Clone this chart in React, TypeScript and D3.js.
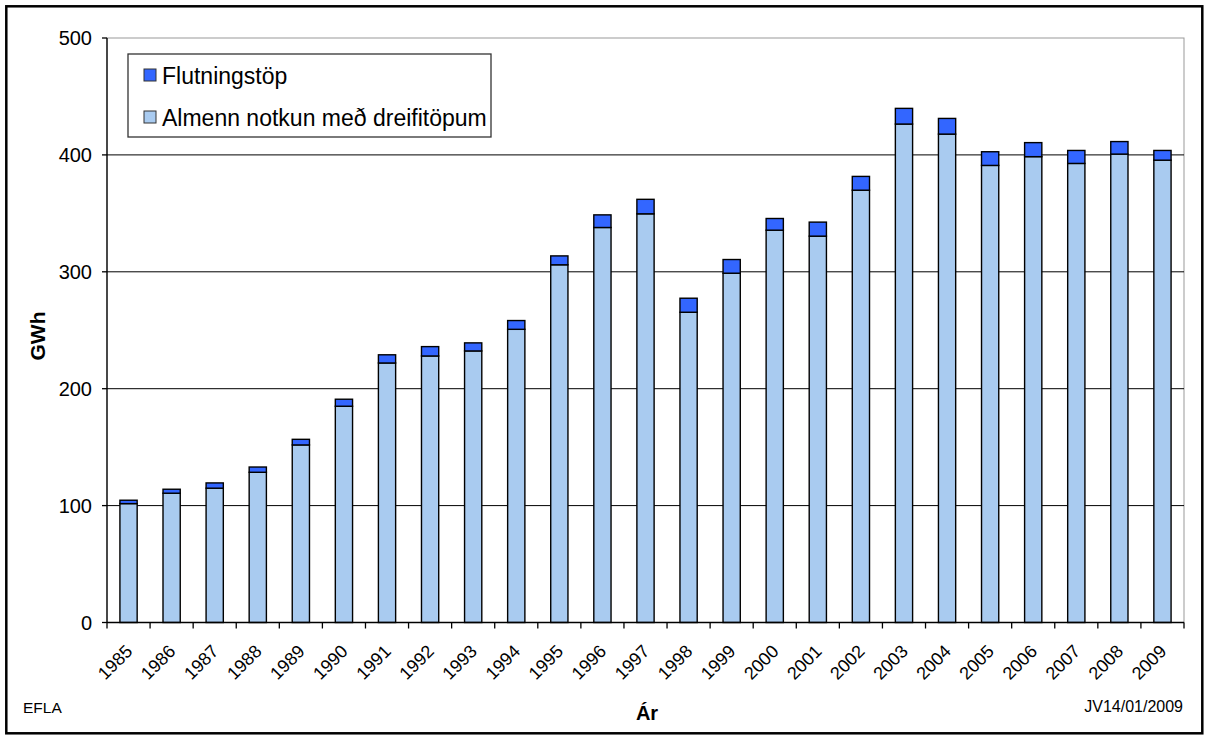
import * as d3 from "d3";

const years = [
  "1985", "1986", "1987", "1988", "1989", "1990", "1991", "1992", "1993",
  "1994", "1995", "1996", "1997", "1998", "1999", "2000", "2001", "2002",
  "2003", "2004", "2005", "2006", "2007", "2008", "2009",
];
// Almenn notkun með dreifitöpum (GWh)
const almenn = [
  101.7, 110.6, 114.9, 128.5, 151.9, 185, 222, 228, 232.3, 250.8, 306, 337.9,
  349.6, 265.4, 298.8, 335.6, 330.5, 369.8, 426.4, 417.8, 391, 398.5, 392.7,
  400.7, 395.5,
];
// Flutningstöp (GWh)
const flutningstop = [
  2.9, 3.4, 4.5, 4.5, 4.8, 6, 7, 8, 6.9, 7.5, 7.6, 10.8, 12.4, 12, 11.7, 10, 12,
  11.8, 13.4, 13.4, 11.7, 12, 11.1, 10.7, 8.3,
];
const yTicks = [0, 100, 200, 300, 400, 500];
const seriesKeys = ["almenn", "flutningstop"];
const seriesNames = ["Flutningstöp", "Almenn notkun með dreifitöpum"];

const LIGHT = "#a9cbf0";
const DARK = "#3366ff";
const FONT = "'Liberation Sans', Arial, sans-serif";

const plot = { left: 107, right: 1184, top: 38, bottom: 622.5 };

export default function App() {
  const rows = years.map((y, i) => ({
    year: y,
    almenn: almenn[i],
    flutningstop: flutningstop[i],
  }));
  const stacked = d3.stack<any>().keys(seriesKeys)(rows);

  // Excel-style category axis: gap width 150%
  const x = d3
    .scaleBand()
    .domain(years)
    .range([plot.left, plot.right])
    .paddingInner(0.6)
    .paddingOuter(0.3);
  const y = d3.scaleLinear().domain([0, 500]).range([plot.bottom, plot.top]);

  const step = x.step();
  const edges = years.map((yr) => (x(yr) ?? 0) - (step - x.bandwidth()) / 2);
  edges.push(plot.right);

  return (
    <svg
      width={1209}
      height={740}
      style={{ position: "absolute", left: 0, top: 0, display: "block" }}
    >
      <rect x={0} y={0} width={1209} height={740} fill="#fff" />
      {/* plot frame */}
      <rect
        x={plot.left}
        y={plot.top}
        width={plot.right - plot.left}
        height={plot.bottom - plot.top}
        fill="none"
        stroke="#999"
        strokeWidth={1}
      />
      {/* gridlines */}
      {yTicks.slice(1, -1).map((t) => (
        <line
          key={t}
          x1={plot.left}
          x2={plot.right}
          y1={y(t)}
          y2={y(t)}
          stroke="#000"
          strokeWidth={1}
        />
      ))}
      {/* bars */}
      {stacked.map((s, si) =>
        s.map((d, i) => (
          <rect
            key={`${si}-${i}`}
            x={x(years[i])}
            y={y(d[1])}
            width={x.bandwidth()}
            height={y(d[0]) - y(d[1])}
            fill={si === 0 ? LIGHT : DARK}
            stroke="#000"
            strokeWidth={1.4}
          />
        ))
      )}
      {/* y axis */}
      <line
        x1={plot.left}
        x2={plot.left}
        y1={plot.top}
        y2={plot.bottom}
        stroke="#000"
        strokeWidth={1.3}
      />
      {yTicks.map((t) => (
        <g key={t}>
          <line
            x1={plot.left - 5}
            x2={plot.left}
            y1={y(t)}
            y2={y(t)}
            stroke="#000"
            strokeWidth={1.3}
          />
          <text
            x={92}
            y={y(t)}
            dy="0.36em"
            textAnchor="end"
            fontFamily={FONT}
            fontSize={20}
          >
            {t}
          </text>
        </g>
      ))}
      {/* x axis */}
      <line
        x1={plot.left}
        x2={plot.right}
        y1={plot.bottom}
        y2={plot.bottom}
        stroke="#000"
        strokeWidth={1.3}
      />
      {edges.map((ex, i) => (
        <line
          key={i}
          x1={ex}
          x2={ex}
          y1={plot.bottom}
          y2={plot.bottom + 6}
          stroke="#000"
          strokeWidth={1.3}
        />
      ))}
      {years.map((yr) => {
        const cx = (x(yr) ?? 0) + x.bandwidth() / 2;
        return (
          <text
            key={yr}
            transform={`translate(${cx + 5},${plot.bottom + 30}) rotate(-45)`}
            textAnchor="end"
            fontFamily={FONT}
            fontSize={18}
          >
            {yr}
          </text>
        );
      })}
      {/* axis titles */}
      <text
        transform={`translate(45,336) rotate(-90)`}
        textAnchor="middle"
        fontFamily={FONT}
        fontSize={21}
        fontWeight="bold"
      >
        GWh
      </text>
      <text
        x={647}
        y={720}
        textAnchor="middle"
        fontFamily={FONT}
        fontSize={20}
        fontWeight="bold"
      >
        Ár
      </text>
      <text x={23} y={713} fontFamily={FONT} fontSize={15.5}>
        EFLA
      </text>
      <text x={1183} y={712} textAnchor="end" fontFamily={FONT} fontSize={16}>
        JV14/01/2009
      </text>
      {/* legend */}
      <rect
        x={128}
        y={54}
        width={363}
        height={83}
        fill="#fff"
        stroke="#333"
        strokeWidth={1.3}
      />
      {seriesNames.map((name, i) => (
        <g key={name} transform={`translate(144,${69 + i * 42})`}>
          <rect
            width={12}
            height={12}
            fill={i === 0 ? DARK : LIGHT}
            stroke="#333"
            strokeWidth={1}
          />
          <text x={18} y={15} fontFamily={FONT} fontSize={23}>
            {name}
          </text>
        </g>
      ))}
      {/* outer frame */}
      <rect
        x={6.3}
        y={6.3}
        width={1196}
        height={727}
        fill="none"
        stroke="#000"
        strokeWidth={2.5}
      />
    </svg>
  );
}
